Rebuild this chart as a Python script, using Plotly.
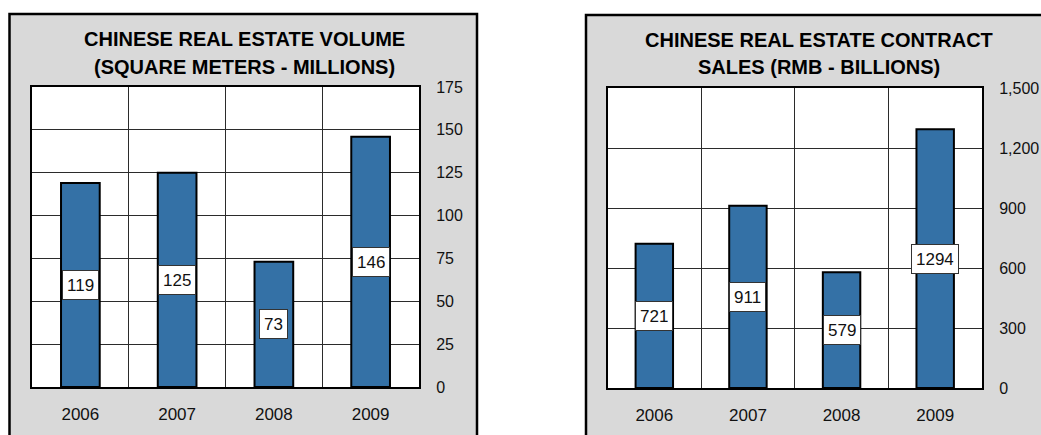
import plotly.graph_objects as go

# ---- data ----
years = ["2006", "2007", "2008", "2009"]
volume = [119, 125, 73, 146]
sales = [721, 911, 579, 1294]
volume_ticks = [0, 25, 50, 75, 100, 125, 150, 175]
sales_ticks = [0, 300, 600, 900, 1200, 1500]
title_left = ["CHINESE REAL ESTATE VOLUME", "(SQUARE METERS - MILLIONS)"]
title_right = ["CHINESE REAL ESTATE CONTRACT", "SALES (RMB - BILLIONS)"]

# ---- styling ----
W, H = 1041, 435
FONT = "Arial, 'Liberation Sans', sans-serif"
BAR = "#3471A6"
GRID = "#2b2b2b"
PANEL = "#d9d9d9"


def px(x):
    return x / W


def py(y):
    return 1 - y / H


fig = go.Figure()
fig.add_trace(go.Bar(x=years, y=volume, xaxis="x", yaxis="y", width=0.4,
                     marker=dict(color=BAR, line=dict(color="black", width=2)),
                     hoverinfo="skip", showlegend=False))
fig.add_trace(go.Bar(x=years, y=sales, xaxis="x2", yaxis="y2", width=0.4,
                     marker=dict(color=BAR, line=dict(color="black", width=2)),
                     hoverinfo="skip", showlegend=False))

n = len(years)
common_x = dict(type="category", tickson="boundaries", range=[-0.5, n - 0.5],
                showgrid=True, gridcolor=GRID, gridwidth=1, showline=True,
                linecolor="black", linewidth=2, mirror=True, tickangle=0,
                ticks="", ticklabelstandoff=11, tickfont=dict(size=17, color="#111"),
                fixedrange=True, automargin=False)
common_y = dict(side="right", showgrid=True, gridcolor=GRID, gridwidth=1, zeroline=False,
                showline=True, linecolor="black", linewidth=2, mirror=True, ticks="",
                ticklabelstandoff=12, tickfont=dict(size=16, color="#111"), fixedrange=True,
                automargin=False)

fig.update_layout(
    width=W, height=H, margin=dict(l=0, r=0, t=0, b=0, pad=0, autoexpand=False),
    paper_bgcolor="white", plot_bgcolor="white",
    font=dict(family=FONT, color="#111"),
    xaxis=dict(domain=[px(32), px(419)], anchor="y", **common_x),
    yaxis=dict(domain=[py(387), py(87)], anchor="x", range=[0, 175],
               tickvals=volume_ticks, **common_y),
    xaxis2=dict(domain=[px(607.5), px(982)], anchor="y2", **common_x),
    yaxis2=dict(domain=[py(388), py(88)], anchor="x2", range=[0, 1500],
                tickvals=sales_ticks, tickformat=",", **common_y),
)

shapes = [
    dict(type="rect", xref="paper", yref="paper", x0=px(9.5), x1=px(477), y0=py(445), y1=py(14),
         fillcolor=PANEL, line=dict(color="black", width=2.5), layer="below"),
    dict(type="rect", xref="paper", yref="paper", x0=px(586), x1=px(1060), y0=py(445), y1=py(15),
         fillcolor=PANEL, line=dict(color="black", width=2.5), layer="below"),
    dict(type="rect", xref="x domain", yref="y domain", x0=0, x1=1, y0=0, y1=1,
         fillcolor="white", line=dict(width=0), layer="below"),
    dict(type="rect", xref="x2 domain", yref="y2 domain", x0=0, x1=1, y0=0, y1=1,
         fillcolor="white", line=dict(width=0), layer="below"),
]
fig.update_layout(shapes=shapes)

annotations = []
for i, line in enumerate(title_left):
    annotations.append(dict(xref="paper", yref="paper", x=px(244), y=py(39 + 28 * i),
                            text="<b>%s</b>" % line, showarrow=False, xanchor="center",
                            yanchor="middle", font=dict(size=20, color="black", family=FONT)))
for i, line in enumerate(title_right):
    annotations.append(dict(xref="paper", yref="paper", x=px(819), y=py(39.5 + 28 * i),
                            text="<b>%s</b>" % line, showarrow=False, xanchor="center",
                            yanchor="middle", font=dict(size=20, color="black", family=FONT)))

for xr, yr, vals in (("x", "y", volume), ("x2", "y2", sales)):
    for idx, v in enumerate(vals):
        # category index position of years[idx]
        annotations.append(dict(xref=xr, yref=yr, x=idx, y=v / 2, text=str(v),
                                showarrow=False, bgcolor="white", bordercolor="#333",
                                borderwidth=1, borderpad=4, height=20,
                                font=dict(size=17, color="#111", family=FONT)))
fig.update_layout(annotations=annotations)

fig.write_html("out.html")
